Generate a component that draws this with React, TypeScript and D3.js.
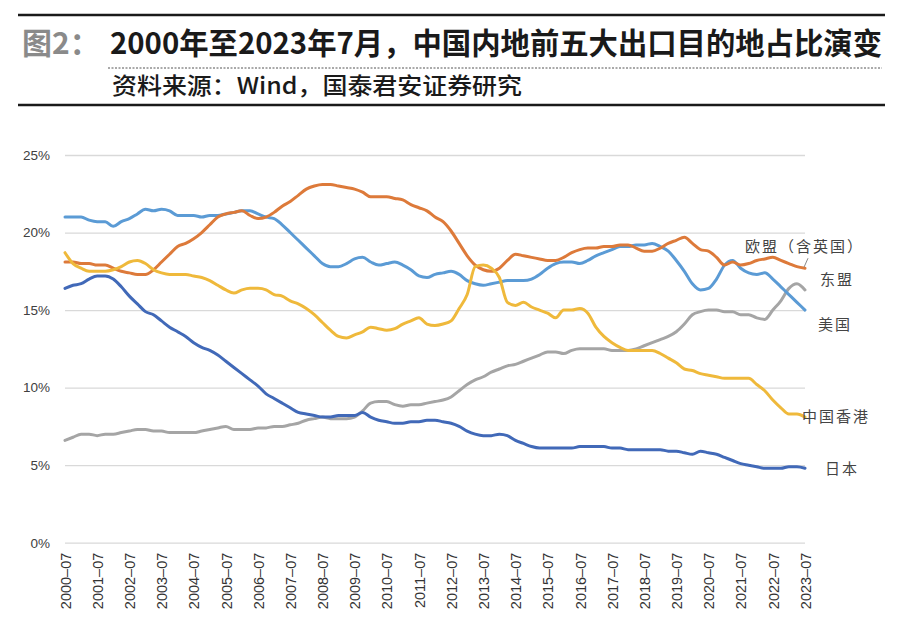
import * as React from "react";
import * as d3 from "d3";

// quarterly readings, 2000-07 .. 2023-07 (93 points, every 3 months)
const tickLabels = [
  "2000–07", "2001–07", "2002–07", "2003–07", "2004–07", "2005–07",
  "2006–07", "2007–07", "2008–07", "2009–07", "2010–07", "2011–07",
  "2012–07", "2013–07", "2014–07", "2015–07", "2016–07", "2017–07",
  "2018–07", "2019–07", "2020–07", "2021–07", "2022–07", "2023–07",
];

const yTicks = [0, 5, 10, 15, 20, 25];

const usa = [
  21.0, 21.0, 21.0, 20.8, 20.7, 20.7, 20.4, 20.7, 20.9, 21.2,
  21.5, 21.4, 21.5, 21.4, 21.1, 21.1, 21.1, 21.0, 21.1, 21.1,
  21.2, 21.3, 21.4, 21.4, 21.2, 21.0, 20.9, 20.5, 20.0, 19.5,
  19.0, 18.5, 18.0, 17.8, 17.8, 18.0, 18.3, 18.4, 18.1, 17.9,
  18.0, 18.1, 17.9, 17.6, 17.2, 17.1, 17.3, 17.4, 17.5, 17.3,
  16.9, 16.7, 16.6, 16.7, 16.8, 16.9, 16.9, 16.9, 17.0, 17.3,
  17.7, 18.0, 18.1, 18.1, 18.0, 18.2, 18.5, 18.7, 18.9, 19.1,
  19.1, 19.2, 19.2, 19.3, 19.1, 18.8, 18.2, 17.5, 16.7, 16.3,
  16.4, 17.0, 17.9, 18.2, 17.7, 17.4, 17.3, 17.4, 17.0, 16.5,
  16.0, 15.5, 15.0,
];

const eu = [
  18.1, 18.1, 18.0, 18.0, 17.9, 17.9, 17.7, 17.5, 17.4, 17.3,
  17.3, 17.6, 18.1, 18.6, 19.1, 19.3, 19.6, 20.0, 20.5, 21.0,
  21.2, 21.3, 21.4, 21.1, 20.9, 21.0, 21.3, 21.7, 22.0, 22.4,
  22.8, 23.0, 23.1, 23.1, 23.0, 22.9, 22.8, 22.6, 22.3, 22.3,
  22.3, 22.2, 22.1, 21.8, 21.6, 21.4, 21.0, 20.7, 20.1, 19.3,
  18.5, 17.9, 17.6, 17.5, 17.7, 18.2, 18.6, 18.5, 18.4, 18.3,
  18.2, 18.2, 18.4, 18.7, 18.9, 19.0, 19.0, 19.1, 19.1, 19.2,
  19.2, 19.0, 18.8, 18.8, 19.0, 19.3, 19.5, 19.7, 19.3, 18.9,
  18.8, 18.4, 17.9, 18.1, 17.9, 18.0, 18.2, 18.3, 18.4, 18.2,
  18.0, 17.8, 17.7,
];

const asean = [
  6.6, 6.8, 7.0, 7.0, 6.9, 7.0, 7.0, 7.1, 7.2, 7.3,
  7.3, 7.2, 7.2, 7.1, 7.1, 7.1, 7.1, 7.2, 7.3, 7.4,
  7.5, 7.3, 7.3, 7.3, 7.4, 7.4, 7.5, 7.5, 7.6, 7.7,
  7.9, 8.0, 8.1, 8.0, 8.0, 8.0, 8.1, 8.5, 9.0, 9.1,
  9.1, 8.9, 8.8, 8.9, 8.9, 9.0, 9.1, 9.2, 9.4, 9.8,
  10.2, 10.5, 10.7, 11.0, 11.2, 11.4, 11.5, 11.7, 11.9, 12.1,
  12.3, 12.3, 12.2, 12.4, 12.5, 12.5, 12.5, 12.5, 12.4, 12.4,
  12.4, 12.5, 12.7, 12.9, 13.1, 13.3, 13.6, 14.1, 14.7, 14.9,
  15.0, 15.0, 14.9, 14.9, 14.7, 14.7, 14.5, 14.4, 15.0, 15.6,
  16.4, 16.7, 16.3,
];

const hongKong = [
  18.7, 18.0, 17.7, 17.5, 17.5, 17.5, 17.6, 17.8, 18.1, 18.2,
  18.0, 17.6, 17.4, 17.3, 17.3, 17.3, 17.2, 17.1, 16.9, 16.6,
  16.3, 16.1, 16.3, 16.4, 16.4, 16.3, 16.0, 15.9, 15.6, 15.4,
  15.1, 14.7, 14.2, 13.7, 13.3, 13.2, 13.4, 13.6, 13.9, 13.8,
  13.7, 13.8, 14.1, 14.3, 14.5, 14.1, 14.0, 14.1, 14.3, 15.1,
  16.0, 17.8, 17.9, 17.7, 17.1, 15.5, 15.3, 15.5, 15.2, 15.0,
  14.8, 14.5, 15.0, 15.0, 15.1, 14.8, 13.9, 13.3, 12.9, 12.6,
  12.4, 12.4, 12.4, 12.4, 12.2, 11.9, 11.6, 11.2, 11.1, 10.9,
  10.8, 10.7, 10.6, 10.6, 10.6, 10.6, 10.2, 9.8, 9.2, 8.7,
  8.3, 8.3, 8.1,
];

const japan = [
  16.4, 16.6, 16.7, 17.0, 17.2, 17.2, 17.0, 16.5, 15.9, 15.4,
  14.9, 14.7, 14.3, 13.9, 13.6, 13.3, 12.9, 12.6, 12.4, 12.1,
  11.7, 11.3, 10.9, 10.5, 10.1, 9.6, 9.3, 9.0, 8.7, 8.4,
  8.3, 8.2, 8.1, 8.1, 8.2, 8.2, 8.2, 8.4, 8.1, 7.9,
  7.8, 7.7, 7.7, 7.8, 7.8, 7.9, 7.9, 7.8, 7.7, 7.5,
  7.2, 7.0, 6.9, 6.9, 7.0, 6.9, 6.6, 6.4, 6.2, 6.1,
  6.1, 6.1, 6.1, 6.1, 6.2, 6.2, 6.2, 6.2, 6.1, 6.1,
  6.0, 6.0, 6.0, 6.0, 6.0, 5.9, 5.9, 5.8, 5.7, 5.9,
  5.8, 5.7, 5.5, 5.3, 5.1, 5.0, 4.9, 4.8, 4.8, 4.8,
  4.9, 4.9, 4.8,
];

// drawing order: first is bottom-most
const series = [
  { name: "东盟", values: asean, color: "#a5a5a5", dx: 15, dy: -10 },
  { name: "日本", values: japan, color: "#4169b8", dx: 20, dy: 0 },
  { name: "美国", values: usa, color: "#5b9bd5", dx: 13, dy: 15 },
  { name: "欧盟（含英国）", values: eu, color: "#dd7a3a", dx: -60, dy: -21 },
  { name: "中国香港", values: hongKong, color: "#efb93b", dx: -3, dy: 0 },
];

const width = 900;
const height = 626;
const plotLeft = 65;
const plotRight = 805;
const plotTop = 155;
const plotBottom = 542.7;
const lastMonth = (tickLabels.length - 1) * 12;

const App: React.FC = () => {
  const gy = React.useRef<SVGGElement>(null);
  const gx = React.useRef<SVGGElement>(null);

  const x = d3.scaleLinear().domain([0, lastMonth]).range([plotLeft, plotRight]);
  const y = d3.scaleLinear().domain([0, 25]).range([plotBottom, plotTop]);

  const line = d3
    .line<number>()
    .x((d, i) => x(i * 3))
    .y((d) => y(d))
    .curve(d3.curveMonotoneX);

  // y axis with gridlines
  React.useEffect(() => {
    if (!gy.current) return;
    const g = d3.select(gy.current);
    g.call(
      d3
        .axisLeft(y)
        .tickValues(yTicks)
        .tickSize(-(plotRight - plotLeft))
        .tickPadding(15)
        .tickFormat((d) => `${d}%`)
    );
    g.select(".domain").remove();
    g.selectAll(".tick line").attr("stroke", "#d9d9d9").attr("stroke-width", 1.3);
    g.selectAll(".tick text")
      .attr("fill", "#404040")
      .attr("font-size", 13.5)
      .attr("font-family", "'Liberation Sans', Arial, sans-serif");
  }, [y]);

  // x axis, rotated labels
  React.useEffect(() => {
    if (!gx.current) return;
    const g = d3.select(gx.current);
    g.call(
      d3
        .axisBottom(x)
        .tickValues(tickLabels.map((_, i) => i * 12))
        .tickSize(0)
        .tickFormat((d, i) => tickLabels[i])
    );
    g.select(".domain").remove();
    g.selectAll<SVGTextElement, number>(".tick text")
      .attr("transform", "rotate(-90)")
      .attr("text-anchor", "end")
      .attr("x", -10)
      .attr("y", 0)
      .attr("dy", "0.36em")
      .attr("fill", "#333")
      .attr("font-size", 14.5)
      .attr("font-family", "'Liberation Sans', Arial, sans-serif");
  }, [x]);

  const cjk = "'Noto Sans CJK SC', 'Noto Sans', sans-serif";

  return (
    <div style={{ position: "fixed", left: 0, top: 0 }}>
      <svg width={width} height={height} style={{ display: "block", background: "#fff" }}>
        {/* header */}
        <line x1={18} x2={885} y1={15} y2={15} stroke="#1a1a1a" strokeWidth={2.6} />
        <text x={22} y={54} fontFamily={cjk} fontWeight={700} fontSize={30} fill="#8a8a8a">
          图2：
        </text>
        <text x={110} y={54} fontFamily={cjk} fontWeight={700} fontSize={29.5} fill="#1a1a1a"
          textLength={772} lengthAdjust="spacingAndGlyphs">
          2000年至2023年7月，中国内地前五大出口目的地占比演变
        </text>
        <line x1={108} x2={882} y1={68} y2={68} stroke="#555" strokeWidth={1} strokeDasharray="2,1.5" />
        <text x={112} y={94} fontFamily={cjk} fontWeight={500} fontSize={23} fill="#1a1a1a"
          textLength={410} lengthAdjust="spacingAndGlyphs">
          资料来源：Wind，国泰君安证券研究
        </text>
        <line x1={18} x2={885} y1={105} y2={105} stroke="#1a1a1a" strokeWidth={2.6} />

        {/* axes */}
        <g ref={gy} transform={`translate(${plotLeft},0)`} />
        <g ref={gx} transform={`translate(0,${plotBottom})`} />

        {/* series */}
        {series.map((s) => (
          <path
            key={s.name}
            d={line(s.values) || undefined}
            fill="none"
            stroke={s.color}
            strokeWidth={3}
            strokeLinejoin="round"
            strokeLinecap="round"
          />
        ))}

        {/* end labels */}
        {series.map((s) => {
          const last = s.values[s.values.length - 1];
          return (
            <text
              key={s.name + "-label"}
              x={x(lastMonth) + s.dx}
              y={y(last) + s.dy}
              dy="0.35em"
              fontFamily={cjk}
              fontSize={15}
              letterSpacing={2}
              fill="#444"
            >
              {s.name}
            </text>
          );
        })}
        <line
          x1={x(lastMonth) - 1}
          y1={y(eu[eu.length - 1]) - 1}
          x2={x(lastMonth) + 3}
          y2={y(eu[eu.length - 1]) - 10}
          stroke="#888"
          strokeWidth={1}
        />
      </svg>
    </div>
  );
};

export default App;
